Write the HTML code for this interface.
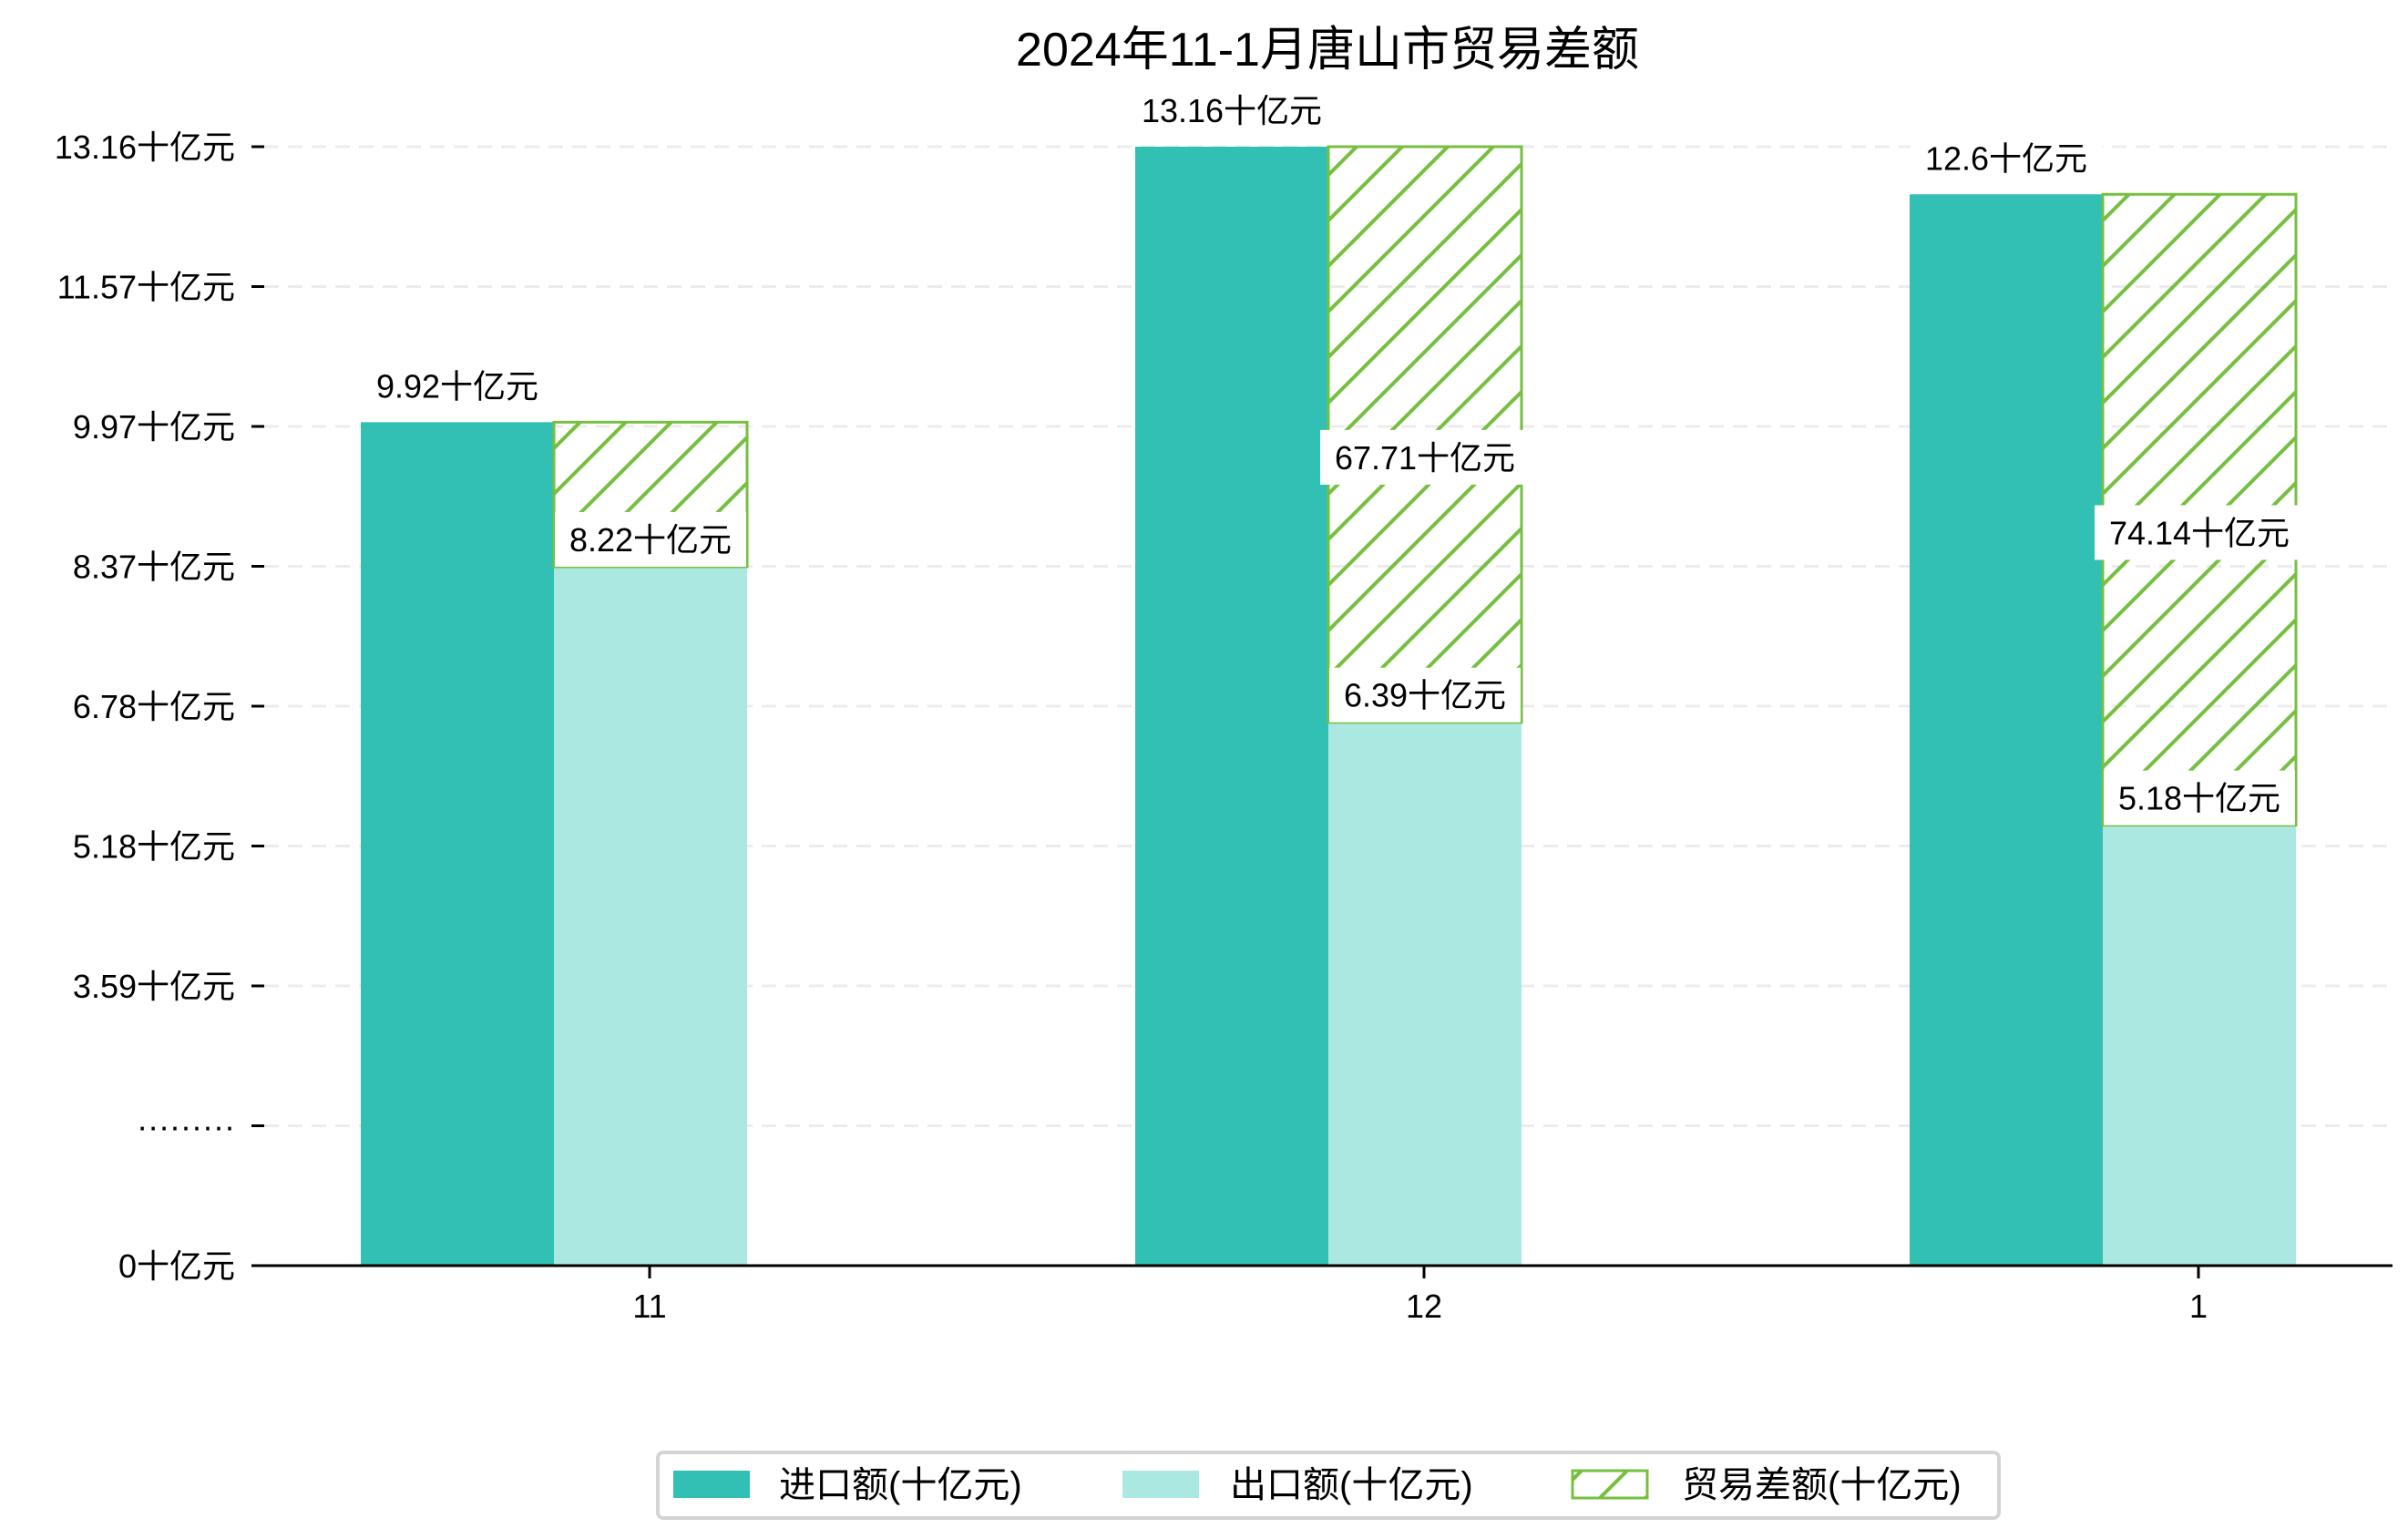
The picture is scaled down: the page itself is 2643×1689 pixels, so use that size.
<!DOCTYPE html>
<html><head><meta charset="utf-8">
<style>
html,body{margin:0;padding:0;background:#fff;}
svg{display:block;}
text{font-family:"Liberation Sans","Noto Sans CJK SC",sans-serif;fill:#000;}
</style></head>
<body>
<svg id="chart" width="2643" height="1689" viewBox="0 0 2643 1689" xmlns="http://www.w3.org/2000/svg">
<defs>
<pattern id="hatch" patternUnits="userSpaceOnUse" width="50" height="50">
<line x1="0" y1="50" x2="50" y2="0" stroke="#76bf40" stroke-width="4"/>
<line x1="-25" y1="25" x2="25" y2="-25" stroke="#76bf40" stroke-width="4"/>
<line x1="25" y1="75" x2="75" y2="25" stroke="#76bf40" stroke-width="4"/>
</pattern>
</defs>
<text x="1457" y="72" font-size="52" text-anchor="middle">2024年11-1月唐山市贸易差额</text>
<g id="grid"></g>
<g id="bars"></g>
<g id="labels"></g>
<line x1="277" y1="1389" x2="2626" y2="1389" stroke="#000" stroke-width="3"/>
<g>
<rect x="722" y="1594" width="1472" height="72" rx="6" fill="#fff" stroke="#d4d4d4" stroke-width="4"/>
<rect x="739" y="1614" width="84" height="30" fill="#31c0b3"/>
<text x="855" y="1643" font-size="40">进口额(十亿元)</text>
<rect x="1232" y="1614" width="84" height="30" fill="#abe8e2"/>
<text x="1350" y="1643" font-size="40">出口额(十亿元)</text>
<rect x="1726" y="1614" width="82" height="30" fill="url(#hatch)" stroke="#76bf40" stroke-width="3"/>
<text x="1846" y="1643" font-size="40">贸易差额(十亿元)</text>
</g>
</svg>
<script>
const categories = ["11", "12", "1"];
const importVals = [9.92, 13.16, 12.6];
const exportVals = [8.22, 6.39, 5.18];
const balanceVals = [9.92, 67.71, 74.14];
const tickLabels = ["0十亿元", "·········", "3.59十亿元", "5.18十亿元", "6.78十亿元", "8.37十亿元", "9.97十亿元", "11.57十亿元", "13.16十亿元"];
const yMax = 13.16;

const NS = "http://www.w3.org/2000/svg";
const y0 = 1389, yTop = 161;
function yScale(v){ return y0 - (v / yMax) * (y0 - yTop); }
function tickY(i){ return y0 - i * (y0 - yTop) / (tickLabels.length - 1); }
const xStart = 713, xStep = 850, barW = 212, barShift = 105;
function xCenter(i){ return xStart + i * xStep; }
function mk(tag, attrs, parent){
  const e = document.createElementNS(NS, tag);
  for (const k in attrs) e.setAttribute(k, attrs[k]);
  parent.appendChild(e);
  return e;
}
const grid = document.getElementById('grid');
const bars = document.getElementById('bars');
const labels = document.getElementById('labels');

tickLabels.forEach((t, i) => {
  const y = tickY(i);
  if (i > 0) {
    const g = mk('line', {x1: 290, x2: 2626, y1: y, y2: y, stroke: '#ececec', 'stroke-width': 3, 'stroke-dasharray': '16,10'}, grid);
    
    
  }
  const tm = mk('line', {x1: 276, x2: 290, y1: y, y2: y, stroke: '#000', 'stroke-width': 3}, grid);
  
  
  const tx = mk('text', {x: 258, y: y + 13, 'font-size': 36, 'text-anchor': 'end'}, grid);
  tx.textContent = t;
  
  
});

function boxLabel(text, cx, cy, name){
  const w = text.length * 20 + 70, h = 60;
  const r = mk('rect', {x: cx - w/2, y: cy - h/2, width: w, height: h, fill: '#fff'}, labels);
  
  
  const t = mk('text', {x: cx, y: cy + 13, 'font-size': 36, 'text-anchor': 'middle'}, labels);
  t.textContent = text;
  
  
}

categories.forEach((c, i) => {
  const cx = xCenter(i);
  const mid = cx - barShift;
  const yi = yScale(importVals[i]), ye = yScale(exportVals[i]);
  const bi = mk('rect', {x: mid - barW, y: yi, width: barW, height: y0 - yi, fill: '#31c0b3'}, bars);
  
  
  const be = mk('rect', {x: mid, y: ye, width: barW, height: y0 - ye, fill: '#abe8e2'}, bars);
  
  
  const hb = mk('rect', {x: mid, y: yi, width: barW, height: Math.max(0, ye - yi), fill: 'url(#hatch)', stroke: '#76bf40', 'stroke-width': 3}, bars);
  
  
  const xt = mk('line', {x1: cx, x2: cx, y1: y0, y2: y0 + 14, stroke: '#000', 'stroke-width': 3}, bars);
  
  
  const xl = mk('text', {x: cx, y: 1446, 'font-size': 36, 'text-anchor': 'middle'}, bars);
  xl.textContent = c;
  
  

  boxLabel(importVals[i] + '十亿元', mid - barW/2, yi - 40, 'import-value-label');
  if (i > 0) boxLabel(balanceVals[i] + '十亿元', mid + barW/2, (yi + ye)/2 + 25, 'balance-value-label');
  boxLabel(exportVals[i] + '十亿元', mid + barW/2, ye - 30, 'export-value-label');
});
</script>
</body></html>
